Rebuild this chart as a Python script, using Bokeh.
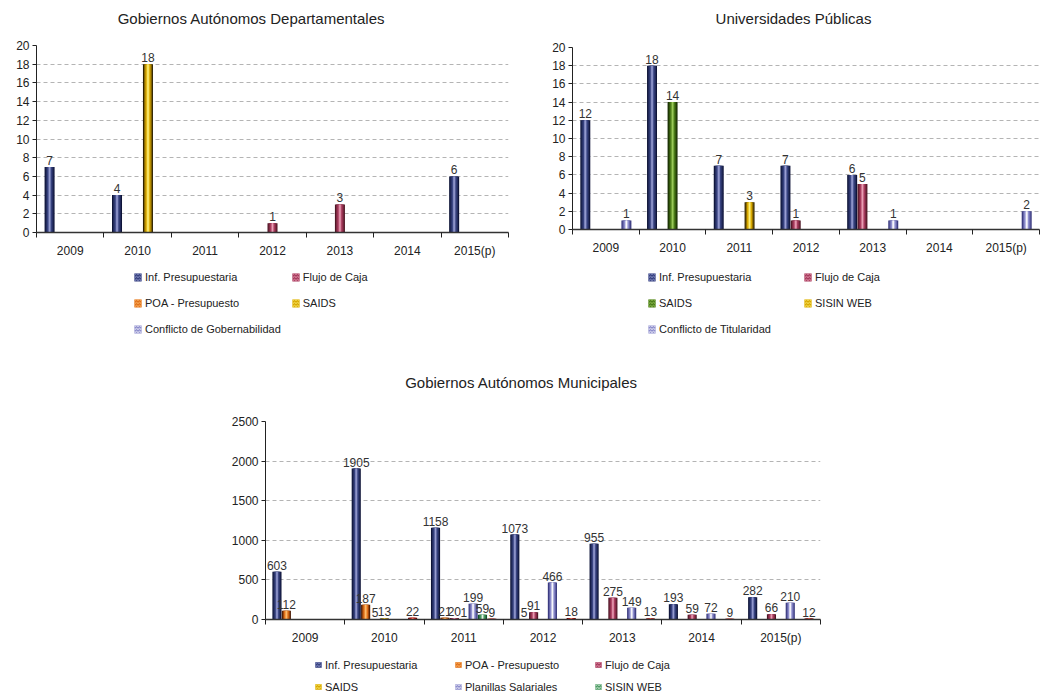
from bokeh.plotting import figure
from bokeh.models import ColumnDataSource, FixedTicker, Legend, LegendItem, Spacer, Range1d, Label
from bokeh.layouts import column, row
from bokeh.embed import file_html
from bokeh.resources import INLINE
from bokeh.core.properties import value

FONT = "Liberation Sans"

years = ["2009", "2010", "2011", "2012", "2013", "2014", "2015(p)"]

# Gobiernos Autónomos Departamentales
gad_inf = [7, 4, 0, 0, 0, 0, 6]
gad_poa = [0, 0, 0, 0, 0, 0, 0]
gad_flujo = [0, 0, 0, 1, 3, 0, 0]
gad_saids = [0, 18, 0, 0, 0, 0, 0]
gad_conflicto = [0, 0, 0, 0, 0, 0, 0]

# Universidades Públicas
up_inf = [12, 18, 7, 7, 6, 0, 0]
up_flujo = [0, 0, 0, 1, 5, 0, 0]
up_saids = [0, 14, 0, 0, 0, 0, 0]
up_sisin = [0, 0, 3, 0, 0, 0, 0]
up_conflicto = [1, 0, 0, 0, 1, 0, 2]

# Gobiernos Autónomos Municipales
gam_inf = [603, 1905, 1158, 1073, 955, 193, 282]
gam_poa = [112, 187, 21, 5, 0, 0, 0]
gam_flujo = [0, 5, 20, 91, 275, 59, 66]
gam_saids = [0, 13, 1, 0, 0, 0, 0]
gam_planillas = [0, 0, 199, 466, 149, 72, 210]
gam_sisin = [0, 0, 59, 0, 0, 0, 0]
gam_otros = [0, 22, 9, 18, 13, 9, 12]

PAL = {
    "navy": ("#0e1438", "#36417e", "#9aa0d4"),
    "orange": ("#4a1800", "#e0701a", "#ffc070"),
    "crimson": ("#4e1624", "#a63a5c", "#eaa0b6"),
    "gold": ("#2e2200", "#d8a800", "#fff27a"),
    "green": ("#142800", "#4a7a18", "#9ccc5a"),
    "lavender": ("#34347a", "#8c8ccc", "#ffffff"),
    "mint": ("#145028", "#4a9a62", "#ecf8ec"),
    "red": ("#600000", "#c81e1e", "#ff9070"),
}


def hex2rgb(h):
    h = h.lstrip("#")
    return [int(h[i:i + 2], 16) for i in (0, 2, 4)]


def mix(a, b, t):
    ra, rb = hex2rgb(a), hex2rgb(b)
    return "#%02x%02x%02x" % tuple(int(round(ra[i] + (rb[i] - ra[i]) * t)) for i in range(3))


def blank(width, height, bl, br):
    q = figure(width=width, height=height, output_backend="svg", toolbar_location=None,
               x_range=Range1d(0, 1), y_range=Range1d(0, 1), x_axis_type=None, y_axis_type=None,
               min_border_left=bl, min_border_top=0, min_border_right=br, min_border_bottom=0)
    q.outline_line_color = None
    q.xgrid.visible = False
    q.ygrid.visible = False
    return q


def make_title(text, width, height, bl, br, x, y):
    q = blank(width, height, bl, br)
    q.add_layout(Label(x=x, y=y, x_units="screen", y_units="screen",
                       text=text, text_align="center", text_baseline="middle",
                       text_font=FONT, text_font_size="15px", text_color="#222222"))
    return q


def make_chart(series, ymax, ystep, width, height, bl, br, bt, bb, slot):
    p = figure(width=width, height=height, output_backend="svg", toolbar_location=None,
               x_range=Range1d(0, 7), y_range=Range1d(0, ymax),
               min_border_left=bl, min_border_right=br, min_border_top=bt, min_border_bottom=bb)
    p.outline_line_color = None

    centers = [i + 0.5 for i in range(len(years))]
    xa = p.xaxis[0]
    xa.ticker = FixedTicker(ticks=centers, minor_ticks=list(range(len(years) + 1)))
    xa.major_label_overrides = {c: y for c, y in zip(centers, years)}
    xa.major_tick_line_color = None
    xa.major_tick_out = 0
    xa.major_tick_in = 0
    xa.minor_tick_line_color = "#222222"
    xa.minor_tick_in = 0
    xa.minor_tick_out = 5
    xa.axis_line_color = "#333333"
    xa.axis_line_width = 1.6
    xa.major_label_text_font = FONT
    xa.major_label_text_font_size = "12px"
    xa.major_label_text_color = "#222222"
    xa.major_label_standoff = 6

    ya = p.yaxis[0]
    ya.ticker = FixedTicker(ticks=list(range(0, ymax + 1, ystep)))
    ya.minor_tick_line_color = None
    ya.major_tick_in = 0
    ya.major_tick_out = 4
    ya.major_tick_line_color = "#222222"
    ya.axis_line_color = "#222222"
    ya.major_label_text_font = FONT
    ya.major_label_text_font_size = "12px"
    ya.major_label_text_color = "#222222"
    ya.major_label_standoff = 3

    p.xgrid.visible = False
    p.ygrid.ticker = FixedTicker(ticks=list(range(0, ymax + 1, ystep)))
    p.ygrid.grid_line_color = "#b4b4b4"
    p.ygrid.grid_line_dash = "4 3"

    n = len(series)
    lab_x, lab_y, lab_t = [], [], []
    for k, (name, vals, pal) in enumerate(series):
        xs = [c + (k - (n - 1) / 2) * slot for c in centers]
        src = ColumnDataSource(data=dict(x=xs, top=vals))
        edge, mid, light = PAL[pal]
        layers = [(1.0, edge), (0.78, mix(edge, mid, 0.55)), (0.52, mid),
                  (0.26, mix(mid, light, 0.6)), (0.1, light)]
        for wf, col in layers:
            p.vbar(x="x", top="top", bottom=0, width=slot * 0.97 * wf, source=src,
                   fill_color=col, line_color=None)
        for x, v in zip(xs, vals):
            if v:
                lab_x.append(x)
                lab_y.append(v)
                lab_t.append(str(v))
    p.text(x=lab_x, y=lab_y, text=lab_t, text_align="center", text_baseline="bottom",
           y_offset=-2, text_font=value(FONT), text_font_size="12px", text_color="#333333")
    return p


def make_legend(entries, width, height, bl, br, loc, ncols, gw, gh, lh, lw, sp):
    q = blank(width, height, bl, br)
    items = []
    for name, pal in entries:
        edge, mid, light = PAL[pal]
        r = q.vbar(x=[0.5], top=[0], bottom=[0], width=0.0, fill_color=mid, line_color=None,
                   hatch_pattern="v", hatch_color=mix(mid, light, 0.6), hatch_scale=3,
                   hatch_weight=1.2)
        items.append(LegendItem(label=name, renderers=[r]))
    leg = Legend(items=items, orientation="horizontal", ncols=ncols, location=loc,
                 glyph_width=gw, glyph_height=gh, label_height=lh, label_width=lw, spacing=sp,
                 label_standoff=3, padding=0, margin=0,
                 label_text_font=FONT, label_text_font_size="11px", label_text_color="#222222",
                 border_line_color=None, background_fill_alpha=0)
    q.add_layout(leg, "center")
    return q


t1 = make_title("Gobiernos Autónomos Departamentales", 520, 38, 36, 12, 215, 20)
p1 = make_chart(
    [("Inf. Presupuestaria", gad_inf, "navy"),
     ("POA - Presupuesto", gad_poa, "orange"),
     ("Flujo de Caja", gad_flujo, "crimson"),
     ("SAIDS", gad_saids, "gold"),
     ("Conflicto de Gobernabilidad", gad_conflicto, "lavender")],
    20, 2, 520, 224, 36, 12, 7, 30, 0.153)
l1 = make_legend(
    [("Inf. Presupuestaria", "navy"), ("Flujo de Caja", "crimson"),
     ("POA - Presupuesto", "orange"), ("SAIDS", "gold"),
     ("Conflicto de Gobernabilidad", "lavender")],
    520, 78, 36, 12, (97, 3), 2, 9, 10, 16, 134, 10)

t2 = make_title("Universidades Públicas", 520, 40, 52, 1, 221, 22)
p2 = make_chart(
    [("Inf. Presupuestaria", up_inf, "navy"),
     ("Flujo de Caja", up_flujo, "crimson"),
     ("SAIDS", up_saids, "green"),
     ("SISIN WEB", up_sisin, "gold"),
     ("Conflicto de Titularidad", up_conflicto, "lavender")],
    20, 2, 520, 222, 52, 1, 7, 33, 0.154)
l2 = make_legend(
    [("Inf. Presupuestaria", "navy"), ("Flujo de Caja", "crimson"),
     ("SAIDS", "green"), ("SISIN WEB", "gold"),
     ("Conflicto de Titularidad", "lavender")],
    520, 78, 52, 1, (75, 3), 2, 9, 10, 16, 134, 10)

t3 = make_title("Gobiernos Autónomos Municipales", 635, 74, 50, 30, 256, 32)
p3 = make_chart(
    [("Inf. Presupuestaria", gam_inf, "navy"),
     ("POA - Presupuesto", gam_poa, "orange"),
     ("Flujo de Caja", gam_flujo, "crimson"),
     ("SAIDS", gam_saids, "gold"),
     ("Planillas Salariales", gam_planillas, "lavender"),
     ("SISIN WEB", gam_sisin, "mint"),
     ("Otros", gam_otros, "red")],
    2500, 500, 635, 235, 50, 30, 7, 30, 0.1185)
l3 = make_legend(
    [("Inf. Presupuestaria", "navy"), ("POA - Presupuesto", "orange"),
     ("Flujo de Caja", "crimson"), ("SAIDS", "gold"),
     ("Planillas Salariales", "lavender"), ("SISIN WEB", "mint")],
    635, 45, 50, 30, (49, 0), 3, 8, 7, 15, 122, 7)

layout = column(
    row(column(t1, p1, l1), column(t2, p2, l2)),
    row(Spacer(width=215, height=354), column(t3, p3, l3)),
)
open("out.html", "w").write(file_html(layout, INLINE))
